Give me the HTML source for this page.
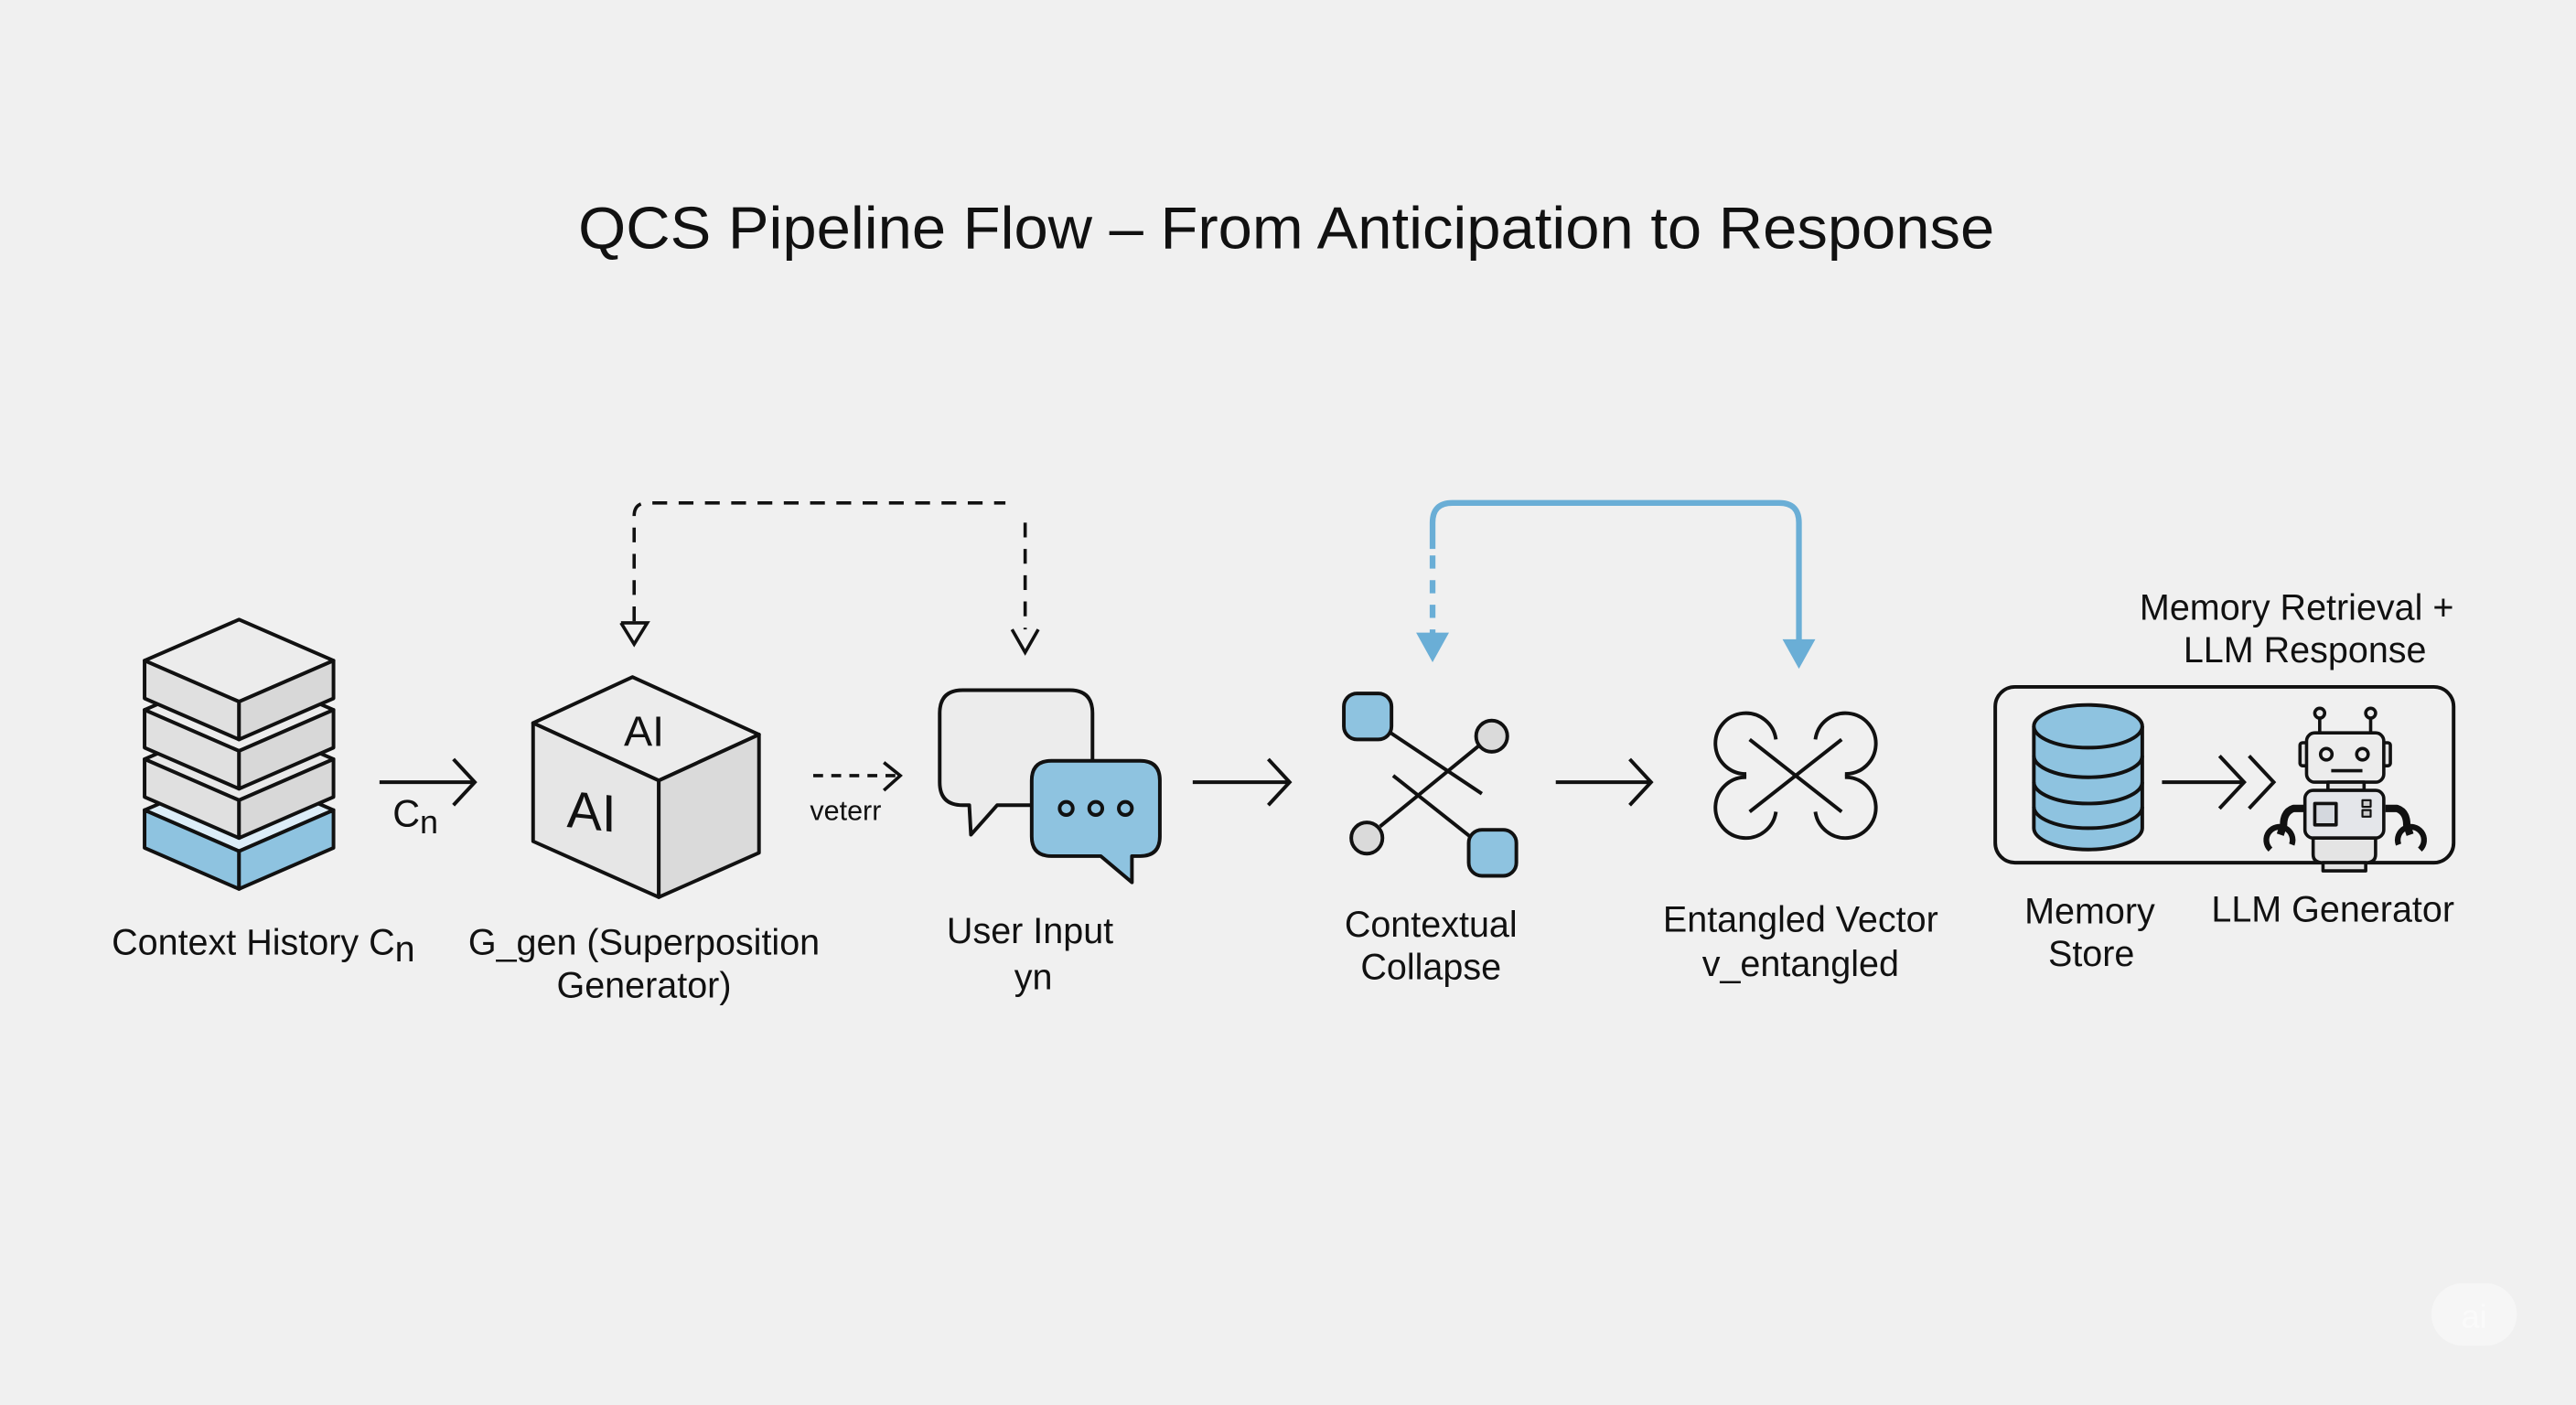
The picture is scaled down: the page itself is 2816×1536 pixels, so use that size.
<!DOCTYPE html>
<html><head><meta charset="utf-8"><style>
html,body{margin:0;padding:0;background:#f0f0f0;}
svg{display:block;}
text{font-family:"Liberation Sans",sans-serif;fill:#111;}
</style></head><body>
<svg width="2816" height="1536" viewBox="0 0 1568 855" xmlns="http://www.w3.org/2000/svg">
<rect width="1568" height="855" fill="#f0f0f0"/>
<text x="783" y="151" font-size="36" text-anchor="middle" textLength="862" lengthAdjust="spacingAndGlyphs">QCS Pipeline Flow – From Anticipation to Response</text>

<g stroke="#111" stroke-width="2.2" stroke-linejoin="round">
<!-- blue slab -->
<path d="M88,493 L145.5,468 L203,493 L145.5,518 Z" fill="#dcedf8"/>
<path d="M88,493 L145.5,518 L145.5,541 L88,516 Z" fill="#8ec3e0"/>
<path d="M203,493 L145.5,518 L145.5,541 L203,516 Z" fill="#8ec3e0"/>
<!-- slab 3 -->
<path d="M88,462 L145.5,437 L203,462 L145.5,487 Z" fill="#e8e8e8"/>
<path d="M110,462 L145.5,446 L181,462 L145.5,478 Z" fill="#ededed"/>
<path d="M88,462 L145.5,487 L145.5,510 L88,485 Z" fill="#e0e0e0"/>
<path d="M203,462 L145.5,487 L145.5,510 L203,485 Z" fill="#d8d8d8"/>
<!-- slab 2 -->
<path d="M88,432 L145.5,407 L203,432 L145.5,457 Z" fill="#ececec"/>
<path d="M88,432 L145.5,457 L145.5,480 L88,455 Z" fill="#e0e0e0"/>
<path d="M203,432 L145.5,457 L145.5,480 L203,455 Z" fill="#d8d8d8"/>
<!-- slab 1 -->
<path d="M88,402 L145.5,377 L203,402 L145.5,427 Z" fill="#ececec"/>
<path d="M88,402 L145.5,427 L145.5,450 L88,425 Z" fill="#e0e0e0"/>
<path d="M203,402 L145.5,427 L145.5,450 L203,425 Z" fill="#d8d8d8"/>
</g>
<text x="68" y="581" font-size="22">Context History C<tspan font-size="22" dy="4">n</tspan></text>

<!-- arrow 1 -->
<g stroke="#111" stroke-width="2.2" fill="none">
<line x1="231" y1="476" x2="289" y2="476"/><polyline points="276,462 289,476 276,490"/>
</g>
<text x="239" y="503" font-size="23">C<tspan font-size="20" dy="4">n</tspan></text>

<!-- AI cube -->
<g stroke="#111" stroke-width="2.2" stroke-linejoin="round">
<path d="M385,412 L462,447 L401,475 L324.5,440 Z" fill="#ececec"/>
<path d="M324.5,440 L401,475 L401,546 L324.5,512 Z" fill="#e6e6e6"/>
<path d="M401,475 L462,447 L462,519 L401,546 Z" fill="#dadada"/>
</g>
<text x="392" y="454" font-size="26" text-anchor="middle">AI</text>
<text x="360" y="505" font-size="32" text-anchor="middle" transform="skewY(6) translate(0,-38)">AI</text>
<text x="392" y="581" font-size="22" text-anchor="middle">G_gen (Superposition</text>
<text x="392" y="607" font-size="22" text-anchor="middle">Generator)</text>

<!-- dashed arrow veterr -->
<g stroke="#111" stroke-width="2" fill="none">
<line x1="495" y1="472" x2="546" y2="472" stroke-dasharray="6,5"/><polyline points="538,464 548,472 538,481"/>
</g>
<text x="493" y="499" font-size="17">veterr</text>

<!-- black dashed loop -->
<g stroke="#111" stroke-width="2" fill="none">
<path d="M386,378 L386,314 Q386,306 394,306 L612,306" stroke-dasharray="9,7"/>
<line x1="624" y1="318" x2="624" y2="383" stroke-dasharray="9,7"/>
<polyline points="378,379 386,392 394,379 378,379"/>
<polyline points="616,383 624,397 632,383"/>
</g>

<!-- speech bubbles -->
<g stroke="#111" stroke-width="2.2" stroke-linejoin="round">
<path d="M665,490 L665,434 Q665,420 651,420 L586,420 Q572,420 572,434 L572,476 Q572,490 586,490 L590,490 L591,508 L607,490 L628,490" fill="#ececec"/>
<path d="M640,463 L694,463 Q706,463 706,475 L706,509 Q706,521 694,521 L689,521 L689,537 L670,521 L640,521 Q628,521 628,509 L628,475 Q628,463 640,463 Z" fill="#8ec3e0"/>
<circle cx="649" cy="492" r="4" fill="#8ec3e0"/><circle cx="667" cy="492" r="4" fill="#8ec3e0"/><circle cx="685" cy="492" r="4" fill="#8ec3e0"/>
</g>
<text x="627" y="574" font-size="22" text-anchor="middle">User Input</text>
<text x="629" y="602" font-size="22" text-anchor="middle">yn</text>

<g stroke="#111" stroke-width="2.2" fill="none">
<line x1="726" y1="476" x2="785" y2="476"/><polyline points="772,462 785,476 772,490"/>
<line x1="947" y1="476" x2="1005" y2="476"/><polyline points="992,462 1005,476 992,490"/>
</g>

<!-- collapse icon -->
<g stroke="#111" stroke-width="2.2">
<line x1="845" y1="445" x2="902" y2="483"/>
<line x1="848" y1="472" x2="896" y2="510"/>
<line x1="900" y1="454" x2="840" y2="503"/>
<rect x="818" y="422" width="29" height="28" rx="8" fill="#8ec3e0"/>
<rect x="894" y="505" width="29" height="28" rx="8" fill="#8ec3e0"/>
<circle cx="908" cy="448" r="9.5" fill="#dadada"/>
<circle cx="832" cy="510" r="9.5" fill="#dadada"/>
</g>
<text x="871" y="570" font-size="22" text-anchor="middle">Contextual</text>
<text x="871" y="596" font-size="22" text-anchor="middle">Collapse</text>

<!-- blue loop -->
<g stroke="#6aaed6" stroke-width="3.5" fill="none">
<path d="M872,334 L872,318 Q872,306 884,306 L1083,306 Q1095,306 1095,318 L1095,392"/>
<line x1="872" y1="338" x2="872" y2="386" stroke-dasharray="8,7"/>
</g>
<path d="M862,385 L882,385 L872,403 Z" fill="#6aaed6"/>
<path d="M1085,389 L1105,389 L1095,407 Z" fill="#6aaed6"/>

<!-- entangled icon -->
<g stroke="#111" stroke-width="2.2" fill="none">
<path d="M1081,450 A18.5,18.5 0 1 0 1063,471"/>
<path d="M1105,450 A18.5,18.5 0 1 1 1123,471"/>
<path d="M1081,494 A18.5,18.5 0 1 1 1063,473"/>
<path d="M1105,494 A18.5,18.5 0 1 0 1123,473"/>
<line x1="1065" y1="450" x2="1121" y2="494"/>
<line x1="1121" y1="450" x2="1065" y2="494"/>
</g>
<text x="1096" y="567" font-size="22" text-anchor="middle">Entangled Vector</text>
<text x="1096" y="594" font-size="22" text-anchor="middle">v_entangled</text>

<!-- memory box -->
<text x="1398" y="377" font-size="22" text-anchor="middle">Memory Retrieval +</text>
<text x="1403" y="403" font-size="22" text-anchor="middle">LLM Response</text>
<rect x="1214.5" y="418" width="279" height="107" rx="12" fill="none" stroke="#111" stroke-width="2.2"/>
<g stroke="#111" stroke-width="2.2">
<path d="M1238,442 L1238,504 A33,13 0 0 0 1304,504 L1304,442" fill="#8ec3e0"/>
<ellipse cx="1271" cy="442" rx="33" ry="13" fill="#8ec3e0"/>
<path d="M1238,460 A33,13 0 0 0 1304,460 M1238,476 A33,13 0 0 0 1304,476 M1238,491 A33,13 0 0 0 1304,491" fill="none"/>
</g>
<g stroke="#111" stroke-width="2.2" fill="none">
<line x1="1316" y1="476" x2="1366" y2="476"/>
<polyline points="1351,460 1366,476 1351,492"/>
<polyline points="1369,460 1384,476 1369,492"/>
</g>
<!-- robot -->
<g stroke="#111" stroke-width="2" stroke-linejoin="round">
<line x1="1412" y1="437" x2="1412" y2="446"/><line x1="1443" y1="437" x2="1443" y2="446"/>
<circle cx="1412" cy="434" r="3" fill="#ececec"/><circle cx="1443" cy="434" r="3" fill="#ececec"/>
<rect x="1400" y="452" width="5" height="14" rx="1.5" fill="#e4e4e4"/>
<rect x="1450" y="452" width="5" height="14" rx="1.5" fill="#e4e4e4"/>
<rect x="1404" y="446" width="47" height="30" rx="5" fill="#ececec"/>
<circle cx="1416" cy="459" r="3.5" fill="#ececec"/><circle cx="1438" cy="459" r="3.5" fill="#ececec"/>
<line x1="1419" y1="469" x2="1438" y2="469"/>
<rect x="1417" y="476" width="22" height="5" fill="#e4e4e4"/>
<path d="M1403,492 L1396,492 Q1390,494 1390,502 L1388,508" fill="none" stroke-width="4.5"/>
<path d="M1452,492 L1459,492 Q1465,494 1465,502 L1467,508" fill="none" stroke-width="4.5"/>
<path d="M1382,517 A8,8 0 1 1 1395,514" fill="none" stroke-width="3.5"/>
<path d="M1473,517 A8,8 0 1 0 1460,514" fill="none" stroke-width="3.5"/>
<rect x="1403" y="481" width="48" height="29" rx="5" fill="#e4e6ea"/>
<rect x="1409" y="489" width="13" height="13" fill="#d4d8de"/>
<rect x="1438" y="487" width="5" height="4" fill="#ccc" stroke-width="1.2"/>
<rect x="1438" y="493" width="5" height="4" fill="#ccc" stroke-width="1.2"/>
<path d="M1408,510 L1446,510 L1446,520 Q1446,525 1440,525 L1414,525 Q1408,525 1408,520 Z" fill="#e4e4e4"/>
<rect x="1414" y="525" width="26" height="5" fill="#e4e4e4"/>
</g>
<text x="1272" y="562" font-size="22" text-anchor="middle">Memory</text>
<text x="1273" y="588" font-size="22" text-anchor="middle">Store</text>
<text x="1420" y="561" font-size="22" text-anchor="middle">LLM Generator</text>

<!-- watermark -->
<rect x="1480" y="781" width="52" height="38" rx="19" fill="#f6f6f6"/>
<text x="1506" y="808" font-size="20" text-anchor="middle" style="fill:#fafafa">ai</text>
</svg>
</body></html>
